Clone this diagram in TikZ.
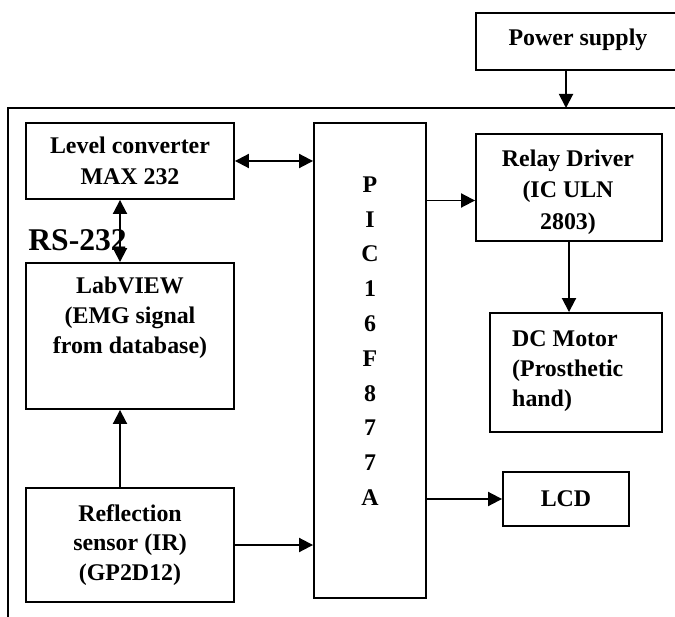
\documentclass[tikz,border=0pt]{standalone}
\usepackage{fontspec}
\setmainfont{Liberation Serif}
\usepackage{tikz}
\usetikzlibrary{positioning, arrows.meta, calc}

\begin{document}
\begin{tikzpicture}[x=0.02cm, y=-0.02cm,
    font=\bfseries\fontsize{13.6}{17}\selectfont,
    blk/.style={draw, rectangle, line width=1.1pt, align=center, inner sep=2pt},
    arr/.style={-{Triangle[length=0.28cm, width=0.28cm]}, line width=1.1pt},
    dbl/.style={{Triangle[length=0.28cm, width=0.28cm]}-{Triangle[length=0.28cm, width=0.28cm]}, line width=1.1pt}]

    % 0. Page size (same proportions as the drawing)
    \useasboundingbox (0,0) rectangle (675,617);

    % 1. Outer frame, runs off the page on the right and bottom
    \draw[line width=1.1pt] (8,108) rectangle (760,680);

    % 2. Power supply above the frame, cut off by the page on the right
    \node[blk, minimum width=5.68cm, minimum height=1.14cm] (power) at (618,41.5) {};
    \node (powertxt) at (578,40) {Power supply};
    \coordinate (pwrin) at (566,108);

    % 3. Left column
    \node[blk, minimum width=4.16cm, minimum height=1.52cm, font=\bfseries\fontsize{13.6}{17.8}\selectfont] (level) at (130,161) {Level converter\\MAX 232};
    \node[blk, minimum width=4.16cm, minimum height=2.92cm] (labview) at (130,336) {};
    \node[align=center] (labviewtxt) at (130,318) {LabVIEW\\(EMG signal\\from database)};
    \node[blk, minimum width=4.16cm, minimum height=2.28cm] (refl) at (130,545) {Reflection\\sensor (IR)\\(GP2D12)};
    % Serial link label
    \node[anchor=base west, font=\bfseries\fontsize{18}{20}\selectfont, inner sep=0pt] (rs) at (28,251) {RS-232};
    \coordinate (rsx) at (120,0);

    % 4. Microcontroller, letters stacked
    \node[blk, minimum width=2.24cm, minimum height=9.5cm] (pic) at (370,360.5) {};
    \node[align=center, font=\bfseries\fontsize{13.6}{19.8}\selectfont] (pictxt) at (370,341)
        {P\\I\\C\\1\\6\\F\\8\\7\\7\\A};

    % 5. Right column
    \node[blk, minimum width=3.72cm, minimum height=2.14cm] (relay) at (569,187.5) {};
    \node[align=center, font=\bfseries\fontsize{13.6}{17.8}\selectfont] (relaytxt) at (568,192) {Relay Driver\\(IC ULN\\2803)};
    \node[blk, minimum width=3.44cm, minimum height=2.38cm] (dc) at (576,372.5) {};
    \node[align=left, anchor=west] (dctxt) at (506,371) {DC Motor\\(Prosthetic\\hand)};
    \node[blk, minimum width=2.52cm, minimum height=1.08cm] (lcd) at (566,499) {LCD};
    \coordinate (relayin) at ($(relay.west)+(0,13)$);

    % 6. Connections
    \draw[arr] (pwrin |- power.south) -- (pwrin);
    \draw[dbl] (level.east) -- (level.east -| pic.west);
    \draw[dbl] (level.south -| rsx) -- (labview.north -| rsx);
    \draw[arr] (refl.north -| rsx) -- (labview.south -| rsx);
    \draw[arr] (refl.east) -- (refl.east -| pic.west);
    \draw[arr] (pic.east |- relayin) -- (relayin);
    \draw[arr] (relay.south) -- (relay.south |- dc.north);
    \draw[arr] (pic.east |- lcd.west) -- (lcd.west);

\end{tikzpicture}
\end{document}
